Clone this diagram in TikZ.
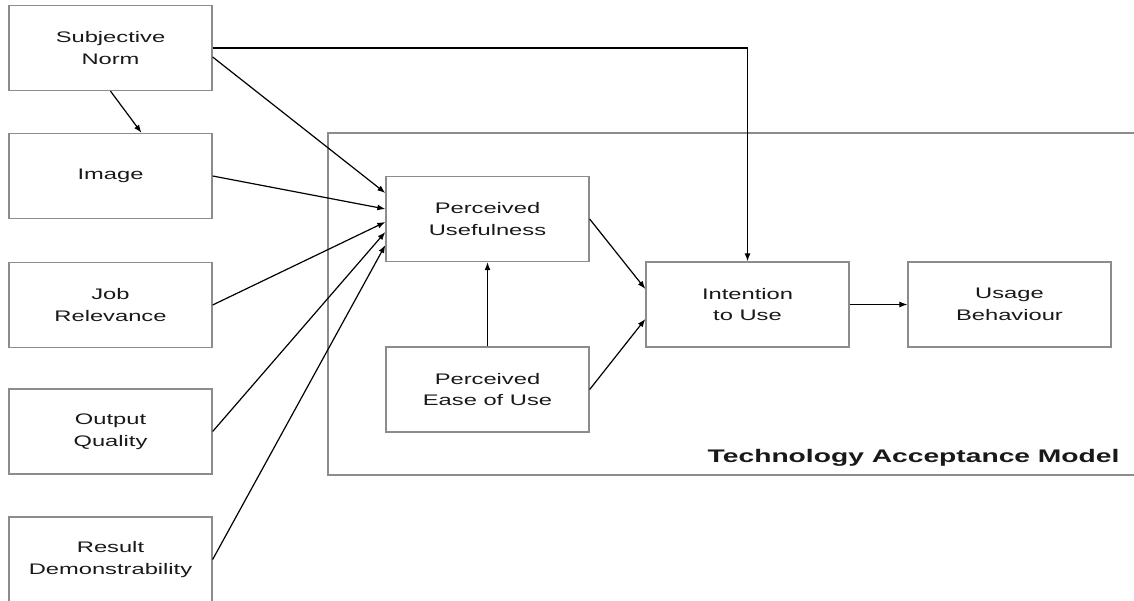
\documentclass[tikz,border=0pt]{standalone}
\usepackage{fontspec}
\setmainfont{Liberation Sans}[FakeStretch=1.55]
\usetikzlibrary{arrows.meta,positioning}

\begin{document}
\begin{tikzpicture}[x=1pt,y=-1pt,>={Latex[length=8pt,width=6pt]}]
      \useasboundingbox (0,0) rectangle (1134,601);
      \draw[draw=black!45,line width=1.3pt] (328,133) rectangle (1150,475);
      \node[anchor=base east,font=\bfseries\fontsize{18.2}{20}\selectfont,text=black!90] (TAM) at (1123,462.5) {Technology Acceptance Model};
      \begin{scope}[every node/.style={draw=black!45,line width=1.3pt,minimum width=203pt,minimum height=85pt,inner sep=0pt,align=center,text=black!90,font=\fontsize{15.3}{21.5}\selectfont}]
        \node (SN) at (110.5,48) {Subjective\\Norm};
        \node (IM) at (110.5,176) {Image};
        \node (JR) at (110.5,305) {Job\\Relevance};
        \node (OQ) at (110.5,431.5) {Output\\Quality};
        \node (RD) at (110.5,559.5) {Result\\Demonstrability};
        \node (PU) at (487.5,219) {Perceived\\Usefulness};
        \node (PE) at (487.5,389.5) {Perceived\\Ease of Use};
        \node (IU) at (747.5,304.5) {Intention\\to Use};
        \node (UB) at (1009.5,304.5) {Usage\\Behaviour};
      \end{scope}
      \begin{scope}[every edge/.style={draw=black,line width=1.2pt}]
        \path[->] (SN.south) edge ([xshift=31pt]IM.north);
        \path[->] ([yshift=-9pt]SN.east) edge ([yshift=26pt]PU.west);
        \path[->] (IM.east) edge ([yshift=10pt]PU.west);
        \path[->] (JR.east) edge ([yshift=-3pt]PU.west);
        \path[->] (OQ.east) edge ([yshift=-13pt]PU.west);
        \path[->] (RD.east) edge ([yshift=-26pt]PU.west);
        \path[->] (PE.north) edge (PU.south);
        \path[->] (PU.east) edge ([yshift=15.5pt]IU.west);
        \path[->] (PE.east) edge ([yshift=-14.5pt]IU.west);
        \path[->] (SN.east) edge[to path={-| (\tikztotarget)}] (IU.north);
        \path[->] (IU.east) edge (UB.west);
      \end{scope}
    \end{tikzpicture}
\end{document}
